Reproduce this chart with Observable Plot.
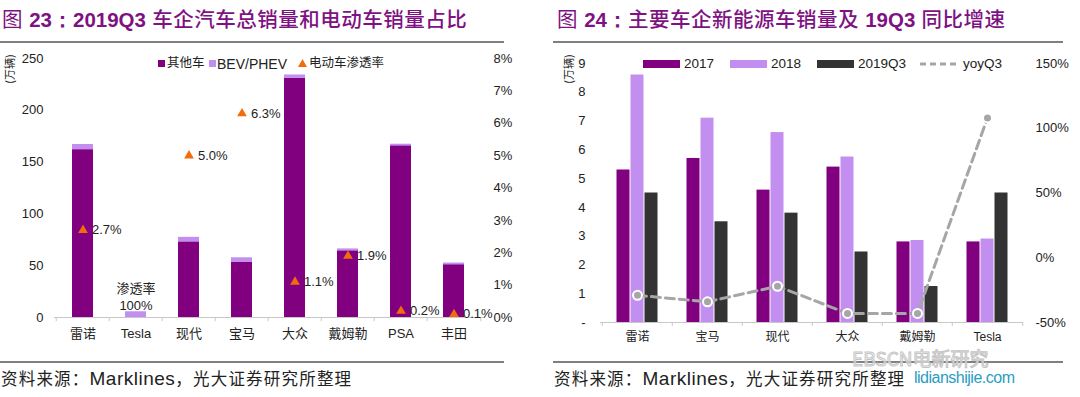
<!DOCTYPE html>
<html>
<head>
<meta charset="utf-8">
<script src="https://cdn.jsdelivr.net/npm/d3@7"></script>
<script src="https://cdn.jsdelivr.net/npm/@observablehq/plot@0.6"></script>
<style>
  body { margin: 0; background: #fff; }
  #root { position: relative; width: 1080px; height: 397px; overflow: hidden; background: #fff;
          font-family: "Liberation Sans", Arial, "Noto Sans CJK SC", sans-serif; color: #222; }
  .abs { position: absolute; white-space: nowrap; }
  .title { font-size: 20.5px; color: #7E1282; line-height: 1; letter-spacing: 0.5px; }
  .title b { font-family: "Liberation Sans", Arial, sans-serif; font-weight: bold; letter-spacing: 0; }
  .title .cn { font-family: "Noto Sans CJK SC", sans-serif; font-weight: 500; }
  .rule { position: absolute; height: 2px; background: #808080; }
  .src { font-size: 16.5px; line-height: 1; letter-spacing: 1.2px; }
  .src .cn { font-family: "Noto Sans CJK SC", sans-serif; }
  .src .en { font-family: "Liberation Sans", Arial, sans-serif; font-size: 19px; letter-spacing: 0.5px; }
  .unit { font-family: "Noto Sans CJK SC", sans-serif; font-size: 11px; transform: rotate(-90deg); transform-origin: center; }
  .leg { font-size: 13.5px; line-height: 1; }
  .leg .cn { font-family: "Noto Sans CJK SC", sans-serif; font-size: 12.5px; }
</style>
</head>
<body>
<div id="root"></div>
<script>
// ---------- Data: Figure 23 ----------
const companiesA = ["雷诺", "Tesla", "现代", "宝马", "大众", "戴姆勒", "PSA", "丰田"];
const otherCars = [162, 0, 73, 53.5, 231, 64.5, 166.5, 52];
const bevPhev = [4.5, 5, 3.9, 3.6, 2.6, 1.2, 0.3, 0.1];
const penetration = [2.7, 100, 5.0, 6.3, 1.1, 1.9, 0.2, 0.1];
const leftTicksA = [0, 50, 100, 150, 200, 250];
const rightTicksA = [0, 1, 2, 3, 4, 5, 6, 7, 8];
const seriesA = ["其他车", "BEV/PHEV"];

// ---------- Data: Figure 24 ----------
const companiesB = ["雷诺", "宝马", "现代", "大众", "戴姆勒", "Tesla"];
const sales2017 = [5.3, 5.7, 4.6, 5.4, 2.8, 2.8];
const sales2018 = [8.6, 7.1, 6.6, 5.75, 2.85, 2.9];
const sales2019Q3 = [4.5, 3.5, 3.8, 2.45, 1.25, 4.5];
const yoyQ3 = [-29, -34, -22, -43, -43, 108];
const leftTicksB = [0, 1, 2, 3, 4, 5, 6, 7, 8, 9];
const rightTicksB = [-50, 0, 50, 100, 150];

// ---------- Styles ----------
const PURPLE = "#800080";
const LAVENDER = "#C28FF0";
const DARK = "#333333";
const ORANGE = "#F26B0F";
const GREY = "#A6A6A6";
const AXIS = "#C8C8C8";
const FONT = "'Liberation Sans', Arial, 'Noto Sans CJK SC', sans-serif";

const root = document.getElementById("root");
function add(html) { root.insertAdjacentHTML("beforeend", html); }

// Titles and rules
add(`<div class="abs title" style="left:2px;top:8px"><span class="cn" style="font-weight:400">图</span> <b>23：2019Q3</b> <span class="cn">车企汽车总销量和电动车销量占比</span></div>`);
add(`<div class="abs title" style="left:557px;top:8px"><span class="cn" style="font-weight:400">图</span> <b>24：</b><span class="cn">主要车企新能源车销量及</span> <b>19Q3</b> <span class="cn">同比增速</span></div>`);
add(`<div class="rule" style="left:0;top:41px;width:504px"></div>`);
add(`<div class="rule" style="left:553px;top:41px;width:510px"></div>`);
add(`<div class="rule" style="left:0;top:361px;width:504px"></div>`);
add(`<div class="rule" style="left:553px;top:361px;width:510px"></div>`);
add(`<div class="abs src" style="left:1px;top:369px"><span class="cn">资料来源：</span><span class="en">Marklines</span><span class="cn">，光大证券研究所整理</span></div>`);
add(`<div class="abs src" style="left:554px;top:369px"><span class="cn">资料来源：</span><span class="en">Marklines</span><span class="cn">，光大证券研究所整理</span></div>`);

// Unit labels
add(`<div class="abs unit" style="left:-6px;top:61px">(万辆)</div>`);
add(`<div class="abs unit" style="left:553px;top:61px">(万辆)</div>`);

// ---------- Left chart ----------
const dataA = [];
seriesA.forEach((s, si) => companiesA.forEach((c, i) => dataA.push({company: c, series: s, value: si === 0 ? otherCars[i] : bevPhev[i]})));
const penData = companiesA.map((c, i) => ({company: c, p: penetration[i], total: otherCars[i] + bevPhev[i]}));
const pctToY = p => p * 250 / 8;

const chartA = Plot.plot({
  width: 540, height: 305,
  marginTop: 13, marginBottom: 33, marginLeft: 54, marginRight: 57,
  style: {fontFamily: FONT, fontSize: "13px", color: "#222", background: "transparent", overflow: "visible"},
  x: {domain: companiesA, paddingInner: 0.6, paddingOuter: 0.3, label: null},
  y: {domain: [0, 250], label: null},
  color: {domain: seriesA, range: [PURPLE, LAVENDER]},
  marks: [
    Plot.axisY({ticks: leftTicksA, tickSize: 0, tickPadding: 11, anchor: "left", label: null}),
    Plot.axisY({ticks: rightTicksA.map(pctToY), tickFormat: d => Math.round(d * 8 / 250) + "%", anchor: "right", tickSize: 0, tickPadding: 10, label: null}),
    Plot.axisX({tickSize: 0, tickPadding: 11, label: null}),
    Plot.barY(dataA, Plot.stackY({x: "company", y: "value", fill: "series"})),
    Plot.tickY(dataA, Plot.groupX({y: "sum"}, {x: "company", y: "value", stroke: LAVENDER, strokeWidth: 2})),
    Plot.ruleY([0], {stroke: AXIS}),
    Plot.ruleX(companiesA, {x: d => d, y1: 0, y2: -4, stroke: AXIS, dx: -26.8}),
    Plot.ruleX(companiesA.slice(-1), {x: d => d, y1: 0, y2: -4, stroke: AXIS, dx: 26.8}),
    Plot.dot(penData.filter(d => d.p <= 8), {x: "company", y: d => pctToY(d.p), symbol: "triangle", r: 3.6, fill: ORANGE}),
    Plot.text(penData.filter(d => d.p <= 8), {x: "company", y: d => pctToY(d.p), text: d => d.p.toFixed(1) + "%", textAnchor: "start", dx: 9, fontSize: 13, fill: "#222"}),
    Plot.text(penData.filter(d => d.p > 8), {x: "company", y: "total", text: d => "渗透率\n" + d.p + "%", lineAnchor: "bottom", dy: -2, lineHeight: 1.3, fontSize: 13, fill: "#222"})
  ]
});
chartA.style.position = "absolute";
chartA.style.left = "0px";
chartA.style.top = "45px";
root.appendChild(chartA);

// Left legend
add(`<div class="abs" style="left:158px;top:60px;width:7px;height:7px;background:${PURPLE}"></div>`);
add(`<div class="abs leg" style="left:167px;top:56px"><span class="cn">其他车</span></div>`);
add(`<div class="abs" style="left:209px;top:60px;width:7px;height:7px;background:${LAVENDER}"></div>`);
add(`<div class="abs leg" style="left:217px;top:57px;font-size:14px">BEV/PHEV</div>`);
add(`<svg class="abs" style="left:298px;top:59px" width="9" height="8"><polygon points="4.5,0 9,8 0,8" fill="${ORANGE}"/></svg>`);
add(`<div class="abs leg" style="left:309px;top:56px"><span class="cn">电动车渗透率</span></div>`);

// ---------- Right chart ----------
const yoyToY = p => (p + 50) * 9 / 200;
const rowsB = companiesB.map((c, i) => ({company: c, s17: sales2017[i], s18: sales2018[i], s19: sales2019Q3[i], yoy: yoyQ3[i]}));
const BAR_INSET = 28.5;

const chartB = Plot.plot({
  width: 540, height: 305,
  marginTop: 18, marginBottom: 28, marginLeft: 60, marginRight: 57,
  style: {fontFamily: FONT, fontSize: "13px", color: "#222", background: "transparent", overflow: "visible"},
  x: {domain: companiesB, padding: 0, label: null},
  y: {domain: [0, 9], label: null},
  marks: [
    Plot.axisY({ticks: leftTicksB, tickFormat: d => d === 0 ? "-" : d, tickSize: 0, tickPadding: 15, anchor: "left", label: null}),
    Plot.axisY({ticks: rightTicksB.map(yoyToY), tickFormat: d => Math.round(d * 200 / 9 - 50) + "%", anchor: "right", tickSize: 0, tickPadding: 12, label: null}),
    Plot.axisX({tickSize: 0, tickPadding: 10, label: null, fontSize: 12}),
    Plot.barY(rowsB, {x: "company", y: "s17", fill: PURPLE, insetLeft: BAR_INSET, insetRight: BAR_INSET, dx: -14}),
    Plot.barY(rowsB, {x: "company", y: "s18", fill: LAVENDER, insetLeft: BAR_INSET, insetRight: BAR_INSET}),
    Plot.barY(rowsB, {x: "company", y: "s19", fill: DARK, insetLeft: BAR_INSET, insetRight: BAR_INSET, dx: 14}),
    Plot.ruleY([0], {stroke: AXIS}),
    Plot.ruleX(companiesB, {x: d => d, y1: 0, y2: -0.14, stroke: AXIS, dx: -35.25}),
    Plot.ruleX(companiesB.slice(-1), {x: d => d, y1: 0, y2: -0.14, stroke: AXIS, dx: 35.25}),
    Plot.lineY(rowsB, {x: "company", y: d => yoyToY(d.yoy), stroke: GREY, strokeWidth: 3, strokeDasharray: "9,5"}),
    Plot.dot(rowsB, {x: "company", y: d => yoyToY(d.yoy), r: 4.5, fill: GREY, stroke: "white", strokeWidth: 2})
  ]
});
chartB.style.position = "absolute";
chartB.style.left = "540px";
chartB.style.top = "45px";
root.appendChild(chartB);

// Right legend
add(`<div class="abs" style="left:643px;top:60px;width:37px;height:8px;background:${PURPLE}"></div>`);
add(`<div class="abs leg" style="left:684px;top:57px">2017</div>`);
add(`<div class="abs" style="left:730px;top:60px;width:37px;height:8px;background:${LAVENDER}"></div>`);
add(`<div class="abs leg" style="left:771px;top:57px">2018</div>`);
add(`<div class="abs" style="left:817px;top:60px;width:37px;height:8px;background:${DARK}"></div>`);
add(`<div class="abs leg" style="left:858px;top:57px">2019Q3</div>`);
add(`<svg class="abs" style="left:920px;top:60px" width="40" height="8"><line x1="0" y1="4" x2="40" y2="4" stroke="${GREY}" stroke-width="3" stroke-dasharray="6,4"/></svg>`);
add(`<div class="abs leg" style="left:963px;top:57px">yoyQ3</div>`);

// Watermark (kept clear of the axis labels)
add(`<div class="abs" style="left:852px;top:348px;font-family:'Noto Sans CJK SC',sans-serif;font-size:19px;line-height:1;color:rgba(255,255,255,0.6);-webkit-text-stroke:1px #c4c4c4">EBSCN电新研究</div>`);
add(`<div class="abs" style="left:914px;top:370px;font-family:'Liberation Sans',Arial,sans-serif;font-size:16px;line-height:1;color:#2A9CC2;letter-spacing:-0.5px">lidianshijie.com</div>`);
</script>
</body>
</html>
